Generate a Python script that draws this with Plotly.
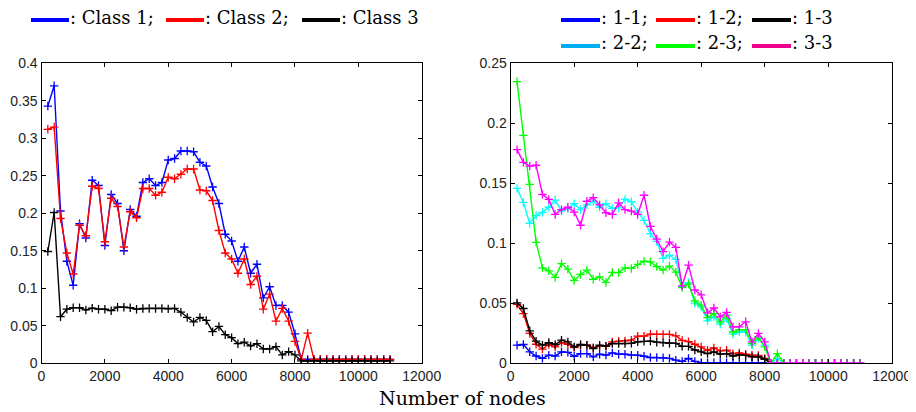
import plotly.graph_objects as go

# ---------------- data ----------------
nodes = [200, 400, 600, 800, 1000, 1200, 1400, 1600, 1800, 2000,
         2200, 2400, 2600, 2800, 3000, 3200, 3400, 3600, 3800, 4000,
         4200, 4400, 4600, 4800, 5000, 5200, 5400, 5600, 5800, 6000,
         6200, 6400, 6600, 6800, 7000, 7200, 7400, 7600, 7800, 8000,
         8200, 8400, 8600, 8800, 9000, 9200, 9400, 9600, 9800, 10000,
         10200, 10400, 10600, 10800, 11000]

class1 = [0.343, 0.370, 0.203, 0.136, 0.104, 0.186, 0.167, 0.244, 0.237, 0.157,
          0.225, 0.213, 0.150, 0.205, 0.196, 0.241, 0.246, 0.237, 0.241, 0.271,
          0.273, 0.283, 0.283, 0.282, 0.268, 0.263, 0.235, 0.213, 0.172, 0.163,
          0.136, 0.155, 0.120, 0.132, 0.087, 0.102, 0.077, 0.077, 0.068, 0.039,
          0.005, 0.005, 0.005, 0.005, 0.005, 0.005, 0.005, 0.005, 0.005, 0.005,
          0.005, 0.005, 0.005, 0.005, 0.005]
class2 = [0.312, 0.315, 0.193, 0.147, 0.119, 0.184, 0.170, 0.236, 0.233, 0.162,
          0.220, 0.209, 0.155, 0.202, 0.194, 0.233, 0.233, 0.224, 0.228, 0.248,
          0.246, 0.252, 0.259, 0.259, 0.231, 0.230, 0.217, 0.177, 0.147, 0.139,
          0.120, 0.139, 0.105, 0.116, 0.072, 0.092, 0.056, 0.073, 0.056, 0.029,
          0.005, 0.040, 0.005, 0.005, 0.005, 0.005, 0.005, 0.005, 0.005, 0.005,
          0.005, 0.005, 0.005, 0.005, 0.005]
class3 = [0.149, 0.201, 0.062, 0.072, 0.074, 0.074, 0.071, 0.0735, 0.072, 0.072,
          0.070, 0.0747, 0.0747, 0.074, 0.072, 0.073, 0.073, 0.073, 0.073, 0.0725,
          0.073, 0.068, 0.061, 0.055, 0.061, 0.057, 0.042, 0.049, 0.038, 0.034,
          0.026, 0.028, 0.023, 0.026, 0.019, 0.019, 0.022, 0.011, 0.0155, 0.011,
          0.003, 0.003, 0.003, 0.003, 0.003, 0.003, 0.003, 0.003, 0.003, 0.003,
          0.003, 0.003, 0.003, 0.003, 0.003]

pair_11 = [0.015, 0.0156, 0.0095, 0.006, 0.004, 0.0067, 0.006, 0.0095, 0.009, 0.0058,
           0.008, 0.008, 0.0053, 0.0075, 0.0067, 0.0086, 0.0075, 0.0075, 0.0067, 0.0067,
           0.0058, 0.0047, 0.0047, 0.0045, 0.004, 0.0025, 0.0015, 0.004, 0.0015, 0.0005,
           0.0005, 0.0005, 0.0005, 0.0005, 0.0005, 0.0005, 0.0005, 0.0005, 0.0005, 0.0005,
           0, 0, 0, 0, 0, 0, 0, 0, 0, 0,
           0, 0, 0, 0, 0]
pair_12 = [0.049, 0.0414, 0.0248, 0.0158, 0.0117, 0.0156, 0.0136, 0.0172, 0.0158, 0.013,
           0.015, 0.015, 0.013, 0.0142, 0.0142, 0.0178, 0.0184, 0.0186, 0.0192, 0.0225,
           0.0225, 0.0242, 0.024, 0.024, 0.024, 0.0228, 0.019, 0.018, 0.0158, 0.0136,
           0.0108, 0.0128, 0.0103, 0.0108, 0.008, 0.0086, 0.0075, 0.0067, 0.0065, 0.004,
           0, 0, 0, 0, 0, 0, 0, 0, 0, 0,
           0, 0, 0, 0, 0]
pair_13 = [0.0503, 0.0456, 0.027, 0.0184, 0.015, 0.0172, 0.0156, 0.0192, 0.0178, 0.0136,
           0.0156, 0.015, 0.0122, 0.015, 0.0142, 0.0164, 0.0164, 0.0164, 0.0166, 0.0178,
           0.0182, 0.0184, 0.0175, 0.0172, 0.0166, 0.0166, 0.014, 0.014, 0.011, 0.0095,
           0.008, 0.0095, 0.0075, 0.008, 0.006, 0.007, 0.0065, 0.0053, 0.0053, 0.0033,
           0, 0, 0, 0, 0, 0, 0, 0, 0, 0,
           0, 0, 0, 0, 0]
pair_22 = [0.1457, 0.134, 0.1165, 0.123, 0.1257, 0.130, 0.136, 0.127, 0.129, 0.133,
           0.128, 0.132, 0.135, 0.130, 0.133, 0.129, 0.1295, 0.1365, 0.1346, 0.126,
           0.119, 0.108, 0.1015, 0.0873, 0.090, 0.0865, 0.064, 0.0672, 0.050, 0.047,
           0.0353, 0.0386, 0.0325, 0.0373, 0.0242, 0.026, 0.026, 0.015, 0.0206, 0.015,
           0, 0.004, 0, 0, 0, 0, 0, 0, 0, 0,
           0, 0, 0, 0, 0]
pair_23 = [0.2347, 0.190, 0.149, 0.1007, 0.0795, 0.077, 0.0715, 0.083, 0.0784, 0.069,
           0.074, 0.0776, 0.070, 0.072, 0.0673, 0.0757, 0.0755, 0.0795, 0.079, 0.0823,
           0.085, 0.0845, 0.0805, 0.0776, 0.081, 0.076, 0.063, 0.066, 0.052, 0.0484,
           0.038, 0.0414, 0.0345, 0.040, 0.026, 0.028, 0.0278, 0.0164, 0.022, 0.0136,
           0, 0.008, 0, 0, 0, 0, 0, 0, 0, 0,
           0, 0, 0, 0, 0]
pair_33 = [0.178, 0.1674, 0.1643, 0.165, 0.1407, 0.1365, 0.124, 0.128, 0.130, 0.126,
           0.115, 0.135, 0.138, 0.132, 0.1254, 0.124, 0.1337, 0.128, 0.1268, 0.124,
           0.140, 0.114, 0.1035, 0.093, 0.101, 0.0965, 0.0645, 0.0817, 0.061, 0.057,
           0.042, 0.046, 0.0386, 0.0423, 0.0303, 0.0303, 0.0345, 0.0178, 0.0248, 0.0178,
           0, 0, 0, 0, 0, 0, 0, 0, 0, 0,
           0, 0, 0, 0, 0]

x_ticks = [0, 2000, 4000, 6000, 8000, 10000, 12000]
left_y_ticks = [0, 0.05, 0.1, 0.15, 0.2, 0.25, 0.3, 0.35, 0.4]
right_y_ticks = [0, 0.05, 0.1, 0.15, 0.2, 0.25]
x_title = "Number of nodes"

left_series = [("Class 1", class1, "#0000FF"), ("Class 2", class2, "#FF0000"), ("Class 3", class3, "#000000")]
right_series = [("1-1", pair_11, "#0000FF"), ("1-2", pair_12, "#FF0000"), ("1-3", pair_13, "#000000"),
                ("2-2", pair_22, "#00FFFF"), ("2-3", pair_23, "#00FF00"), ("3-3", pair_33, "#FF00FF")]

# ---------------- figure ----------------
# the page body has an 8px default margin, so the figure is 908x404 placed at (8, 8)
OFF = 8
W, H = 916 - OFF, 412 - OFF
fig = go.Figure()

def add_series(name, ys, color, xa, ya):
    fig.add_trace(go.Scatter(
        x=nodes, y=ys, name=name, mode="lines+markers", xaxis=xa, yaxis=ya,
        line=dict(color=color, width=1.4),
        marker=dict(symbol="cross-thin", size=6, line=dict(color=color, width=1.3), color=color),
        showlegend=False))

for n, ys, c in left_series:
    add_series(n, ys, c, "x", "y")
for n, ys, c in right_series:
    add_series(n, ys, c, "x2", "y2")

def px_x(p):
    return (p - OFF) / W

def px_y(p):
    return 1 - (p - OFF) / H

tickfont = dict(family="Liberation Sans, Arial, sans-serif", size=14, color="#222222")
axis_common = dict(showline=True, linecolor="black", linewidth=1.2, mirror="ticks",
                   ticks="inside", ticklen=4, tickcolor="black", showgrid=False,
                   zeroline=False, tickfont=tickfont, automargin=False)

fig.update_layout(
    width=W, height=H, margin=dict(l=0, r=0, t=0, b=0, autoexpand=False),
    paper_bgcolor="white", plot_bgcolor="white",
    xaxis=dict(domain=[px_x(41.5), px_x(421.7)], range=[0, 12000], tickvals=x_ticks,
               tickformat="d", anchor="y", **axis_common),
    yaxis=dict(domain=[px_y(363.2), px_y(63.3)], range=[0, 0.4], tickvals=left_y_ticks,
               anchor="x", **axis_common),
    xaxis2=dict(domain=[px_x(510.7), px_x(891.7)], range=[0, 12000], tickvals=x_ticks,
                tickformat="d", anchor="y2", **axis_common),
    yaxis2=dict(domain=[px_y(363.2), px_y(63.3)], range=[0, 0.25], tickvals=right_y_ticks,
                anchor="x2", **axis_common),
)

legend_font = dict(family="DejaVu Serif, Liberation Serif, serif", size=18, color="black")
title_font = dict(family="DejaVu Serif, Liberation Serif, serif", size=19, color="black")

# legend-like headers: coloured bars followed by text
left_legend = [(31, 69, "#0000FF", ": Class 1;"), (166, 204, "#FF0000", ": Class 2;"),
               (302, 340, "#000000", ": Class 3")]
right_legend = [(561, 600, 17, "#0000FF", ": 1-1;"), (656, 695, 17, "#FF0000", ": 1-2;"),
                (752, 791, 17, "#000000", ": 1-3"),
                (561, 600, 43, "#00AEEF", ": 2-2;"), (656, 695, 43, "#00FF00", ": 2-3;"),
                (752, 791, 43, "#EC008C", ": 3-3")]

items = [(a, b, 17, c, t) for a, b, c, t in left_legend] + right_legend
for x0, x1, yy, col, txt in items:
    fig.add_shape(type="line", xref="paper", yref="paper",
                  x0=px_x(x0), x1=px_x(x1), y0=px_y(yy + 3), y1=px_y(yy + 3),
                  line=dict(color=col, width=4))
    fig.add_annotation(text=txt, xref="paper", yref="paper", x=px_x(x1 - 1), y=px_y(yy),
                       xanchor="left", yanchor="middle", showarrow=False, font=legend_font)

fig.add_annotation(text=x_title, xref="paper", yref="paper", x=px_x(462), y=px_y(398),
                   xanchor="center", yanchor="middle", showarrow=False, font=title_font)

fig.write_html("out.html")
